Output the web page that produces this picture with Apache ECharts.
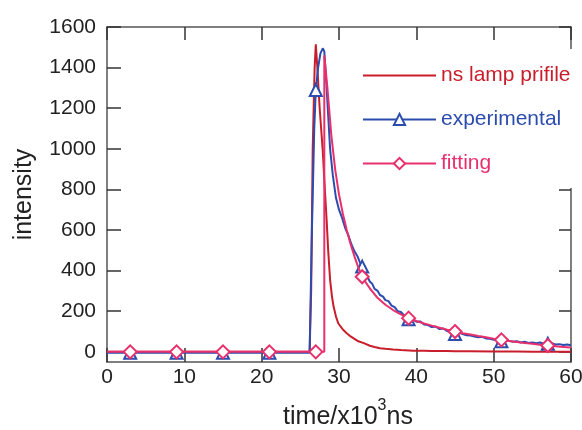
<!DOCTYPE html>
<html><head><meta charset="utf-8">
<script src="https://cdn.jsdelivr.net/npm/echarts@6/dist/echarts.min.js"></script>
<style>html,body{margin:0;padding:0;background:#fff}#c{width:582px;height:430px}</style>
</head><body><div id="c"></div>
<script>
var seriesNames = ['ns lamp prifile', 'experimental', 'fitting'];
var xTicks = [0, 10, 20, 30, 40, 50, 60];
var yTicks = [0, 200, 400, 600, 800, 1000, 1200, 1400, 1600];
var markerX = [3, 9, 15, 21, 27, 33, 39, 45, 51, 57];

var lampData = [[0,0],[26.2,0],[26.4,300],[26.6,1000],[26.85,1400],[27,1515],[27.2,1400],[27.5,1200],[27.9,990],[28.2,780],[28.4,650],[28.6,500],[28.85,355],[29.1,270],[29.3,223],[29.6,175],[29.9,141],[30.2,125],[30.5,110],[31,92],[31.5,76],[32,64],[32.5,52],[33.2,43],[34,30],[34.6,24],[35.3,18],[36,15],[37,11],[38,9],[39.6,6],[41,5],[42,4],[44,4],[45,3],[47,3],[50,2],[53,2],[55,1],[58,1],[60,1]];

var expData = [[0,-5],[3,-5],[9,-5],[15,-5],[21,-5],[26.2,-5],[26.5,600],[26.8,1100],[27,1290],[27.3,1400],[27.6,1470],[27.9,1495],[28.1,1480],[28.4,1300],[28.85,1000],[29.2,870],[29.6,760],[30,700],[30.4,660],[30.8,610],[31.2,575],[31.6,530],[32,495],[32.4,470],[32.7,440],[33,420],[33.3,395],[33.6,375],[34,345],[34.3,335],[34.6,310],[35,300],[35.3,280],[35.7,272],[36,255],[36.4,250],[36.8,228],[37.2,220],[37.6,200],[38,196],[38.4,180],[38.8,172],[39,160],[39.5,162],[40,148],[40.5,150],[41,135],[41.5,132],[42,122],[42.5,125],[43,112],[43.5,115],[44,102],[44.5,100],[45,88],[45.5,95],[46,88],[46.5,82],[47,80],[47.5,76],[48,72],[48.5,74],[49,66],[49.5,64],[50,60],[50.5,62],[51,52],[51.5,58],[52,54],[52.5,50],[53,52],[53.5,46],[54,50],[54.5,44],[55,46],[55.5,42],[56,46],[56.5,40],[57,40],[57.5,42],[58,36],[58.5,38],[59,34],[59.5,36],[60,32]];

var fitData = [[0,0],[3,0],[9,0],[15,0],[21,0],[27,0],[28.1,0],[28.1,1460],[28.5,1300],[29,1070],[29.5,900],[30,775],[30.5,680],[31,600],[31.5,530],[32,470],[32.5,415],[33,370],[33.5,340],[34,312],[35,265],[36,232],[37,206],[38,185],[39,166],[40,152],[41,140],[42,129],[43,119],[44,109],[45,100],[46,92],[47,85],[48,78],[49,72],[50,65],[51,59],[52,54],[53,49],[54,44],[55,40],[56,35],[57,31],[58,27],[59,24],[60,21]];

var colors = ['#c81e2c', '#2c4cae', '#e8306c'];

function withMarkers(data) {
  return data.map(function (p) {
    var isMark = markerX.indexOf(p[0]) >= 0;
    return isMark ? { value: p } : { value: p, symbol: 'none' };
  });
}

var font = 'Liberation Sans, Arial, sans-serif';
var chart = echarts.init(document.getElementById('c'));
var axisLineStyle = { color: '#555', width: 1.5 };
var tickStyle = { color: '#333', width: 1.5 };
var plainNum = function (v) { return String(v); };

chart.setOption({
  animation: false,
  grid: { left: 107, right: 11, top: 27, bottom: 68, outerBoundsMode: 'none', containLabel: false },
  legend: {
    orient: 'vertical',
    left: 356, top: 49,
    itemWidth: 73, itemHeight: 14, itemGap: 23,
    backgroundColor: '#fff',
    padding: [16, 6, 14, 6],
    textStyle: { fontFamily: font, fontSize: 21 },
    data: seriesNames.map(function (n, i) {
      var d = { name: n, textStyle: { color: colors[i] } };
      if (i === 0) d.icon = 'path://M0 0H100V3H0Z';
      return d;
    })
  },
  xAxis: [{
    type: 'value', min: 0, max: 60, interval: 10,
    name: '{n|time/x10}{sup|3}{n|ns}', nameLocation: 'middle', nameGap: 36,
    nameTextStyle: { fontFamily: font, fontSize: 25, color: '#222', padding: [0, 0, 0, 18],
      rich: {
        n: { fontFamily: font, fontSize: 25, color: '#222', verticalAlign: 'bottom', lineHeight: 32 },
        sup: { fontFamily: font, fontSize: 16, color: '#222', verticalAlign: 'top', lineHeight: 16 }
      } },
    axisLine: { onZero: false, lineStyle: axisLineStyle },
    axisTick: { inside: true, length: 14, lineStyle: tickStyle },
    axisLabel: { fontFamily: font, fontSize: 21, color: '#222', margin: 5, formatter: plainNum },
    splitLine: { show: false }
  }, {
    type: 'value', min: 0, max: 60, interval: 10, position: 'top',
    axisLine: { onZero: false, lineStyle: axisLineStyle },
    axisTick: { inside: true, length: 13, lineStyle: tickStyle },
    axisLabel: { show: false },
    splitLine: { show: false }
  }],
  yAxis: [{
    type: 'value', min: -50, max: 1600,
    name: 'intensity', nameLocation: 'middle', nameGap: 70,
    nameTextStyle: { fontFamily: font, fontSize: 25, color: '#222' },
    axisLine: { onZero: false, lineStyle: axisLineStyle },
    axisTick: { inside: true, length: 14, lineStyle: tickStyle, customValues: yTicks },
    axisLabel: { fontFamily: font, fontSize: 21, color: '#222', margin: 11, customValues: yTicks, formatter: plainNum },
    splitLine: { show: false }
  }, {
    type: 'value', min: -50, max: 1600, position: 'right',
    axisLine: { onZero: false, lineStyle: axisLineStyle },
    axisTick: { inside: true, length: 12, lineStyle: tickStyle, customValues: yTicks },
    axisLabel: { show: false, customValues: yTicks },
    splitLine: { show: false }
  }],
  series: [{
    name: seriesNames[0], type: 'line', symbol: 'none',
    lineStyle: { color: colors[0], width: 2 }, itemStyle: { color: colors[0] },
    data: lampData, z: 2
  }, {
    name: seriesNames[1], type: 'line', symbol: 'emptyTriangle', symbolSize: 12,
    showAllSymbol: true,
    lineStyle: { color: colors[1], width: 2 },
    itemStyle: { color: colors[1], borderColor: colors[1], borderWidth: 1.5 },
    data: withMarkers(expData), z: 3
  }, {
    name: seriesNames[2], type: 'line', symbol: 'emptyDiamond', symbolSize: 13,
    showAllSymbol: true,
    lineStyle: { color: colors[2], width: 2 },
    itemStyle: { color: colors[2], borderColor: colors[2], borderWidth: 1.5 },
    data: withMarkers(fitData), z: 4
  }]
});
</script></body></html>
